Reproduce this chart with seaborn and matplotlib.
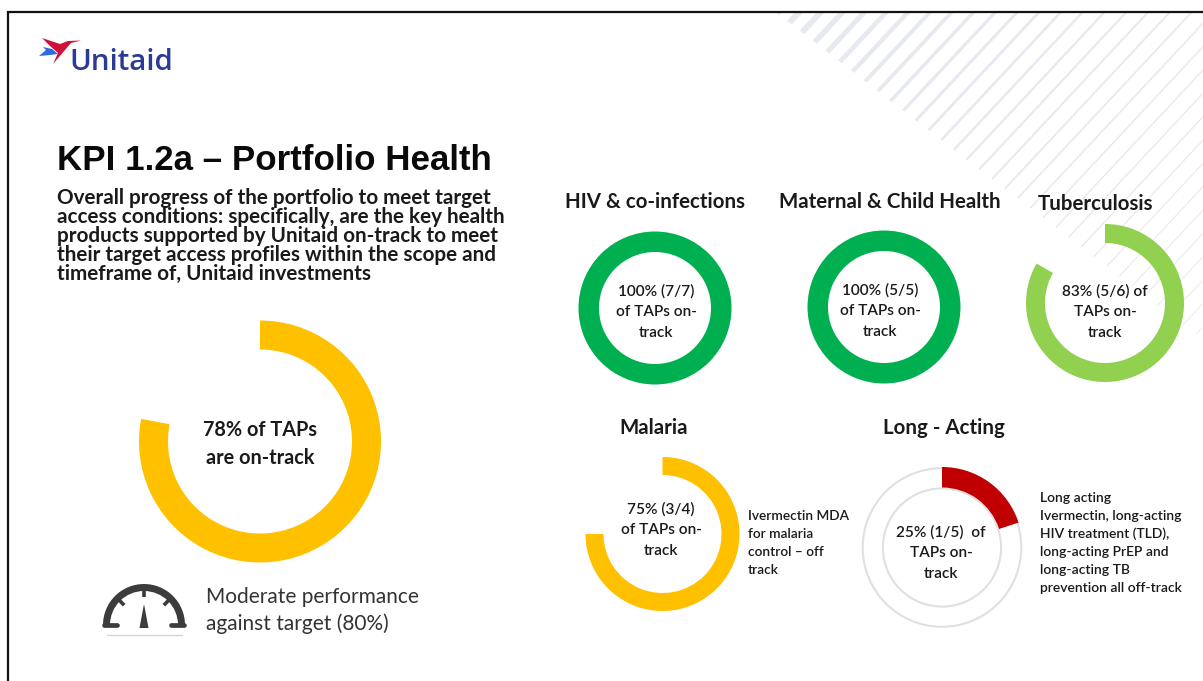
import numpy as np
import matplotlib
matplotlib.use("Agg")
import matplotlib.pyplot as plt
from matplotlib.patches import Wedge, Polygon
import seaborn as sns

W, H = 1203, 681

# data
overall_pct = 78
overall_label = ["78% of TAPs", "are on-track"]
area_names = ["HIV & co-infections", "Maternal & Child Health", "Tuberculosis", "Malaria", "Long - Acting"]
on_track = [7, 5, 5, 3, 1]
total = [7, 5, 6, 4, 5]
area_labels = [
    ["100% (7/7)", "of TAPs on-", "track"],
    ["100% (5/5)", "of TAPs on-", "track"],
    ["83% (5/6) of", "TAPs on-", "track"],
    ["75% (3/4)", "of TAPs on-", "track"],
    ["25% (1/5)  of", "TAPs on-", "track"],
]
title = "KPI 1.2a – Portfolio Health"
intro_lines = [
    "Overall progress of the portfolio to meet target",
    "access conditions: specifically, are the key health",
    "products supported by Unitaid on-track to meet",
    "their target access profiles within the scope and",
    "timeframe of, Unitaid investments",
]
perf_lines = ["Moderate performance", "against target (80%)"]
malaria_note = ["Ivermectin MDA", "for malaria", "control – off", "track"]
la_note = ["Long acting", "Ivermectin, long-acting", "HIV treatment (TLD),", "long-acting PrEP and",
           "long-acting TB", "prevention all off-track"]

# layout in pixels, kept apart from the values
area_centers = [(655, 308), (884, 307), (1105, 303), (662.5, 534), (942, 547.5)]
area_radii = [76.5, 76.5, 79, 77, 80.5]
area_inner = [56, 56, 60, 59, 60]
area_colors = ["#00b050", "#00b050", "#92d050", "#ffc000", "#c00000"]
name_pos = [(655, 202.5), (890, 202.5), (1096, 204.5), (654, 428.5), (944, 428.5)]
label_pos = [(656, 291.5), (880, 290.5), (1105, 291.5), (661, 509.5), (941, 532.5)]

sns.set_theme(style="white")
plt.rcParams["font.family"] = ["Lato", "DejaVu Sans"]
TXT = "#1a1a1a"

fig = plt.figure(figsize=(W / 100, H / 100), dpi=100, facecolor="white")
bg = fig.add_axes([0, 0, 1, 1])
bg.set_xlim(0, W)
bg.set_ylim(H, 0)
bg.axis("off")

# slide frame
bg.plot([8, 8, W], [H, 12, 12], color="#111111", lw=1.6, zorder=5, solid_joinstyle="miter")

# striped corner, stripes get thinner towards the right
clip = Polygon([(777, 13), (1203, 343), (1203, 13)], transform=bg.transData)
for i in range(-1, 48):
    x0 = 764 + i * 12.7
    y0 = 3 + i * 9.75
    lw = 5.0 * np.exp(-max(i, 0) / 12) + 0.3
    line, = bg.plot([x0, x0 + 450], [y0, y0 - 450 * 1.07], color="#e6e9ef", lw=lw, zorder=1)
    line.set_clip_path(clip)

# logo
bg.text(69, 70, "Unitaid", color="#2b3a94", fontsize=21.2, fontfamily="Open Sans", fontweight="semibold",
        va="baseline", ha="left", zorder=3)
bg.add_patch(Polygon([(42, 38), (60, 44), (68, 41), (81, 40.5), (71, 43), (53, 64), (58, 53), (50, 46)],
                     color="#d0103a", zorder=4, lw=0))
bg.add_patch(Polygon([(39, 56), (46, 50), (43, 47), (52, 49), (58, 54), (50, 55)], color="#2d6be0", zorder=3, lw=0))

bg.text(57, 170, title, fontsize=25.1, fontweight="bold", fontfamily="Liberation Sans", color="#0a0a0a",
        va="baseline", ha="left", zorder=3)
for i, line in enumerate(intro_lines):
    bg.text(57, 197.7 + i * 19.1, line, fontsize=14.9, fontweight="bold", color=TXT, va="center", ha="left", zorder=3)


def donut(cx, cy, r, inner, share, color, ring=False):
    ax = fig.add_axes([(cx - r) / W, 1 - (cy + r) / H, 2 * r / W, 2 * r / H])
    ax.set_facecolor("none")
    if share >= 1:
        sizes, cols = [1], [color]
    else:
        sizes, cols = [share, 1 - share], [color, "none"]
    if ring:
        ax.pie([1], radius=0.985, colors=["white"], startangle=90,
               wedgeprops=dict(width=(r - inner) / r * 0.985, edgecolor="#e0e0e0", linewidth=1.5))
    ax.pie(sizes, radius=1, colors=cols, startangle=90, counterclock=False,
           wedgeprops=dict(width=(r - inner) / r, linewidth=0))
    ax.set_xlim(-1, 1)
    ax.set_ylim(-1, 1)
    return ax


donut(260, 441.5, 121, 92, overall_pct / 100, "#ffc000")
for i, line in enumerate(overall_label):
    bg.text(260, 429.5 + i * 28, line, fontsize=14.3, fontweight="bold", color=TXT, ha="center", va="center", zorder=3)

for k, name in enumerate(area_names):
    cx, cy = area_centers[k]
    donut(cx, cy, area_radii[k], area_inner[k], on_track[k] / total[k], area_colors[k], ring=(k == 4))
    bg.text(name_pos[k][0], name_pos[k][1], name, fontsize=14.8, fontweight="bold", color=TXT,
            ha="center", va="center", zorder=3)

fig_txt = fig.add_axes([0, 0, 1, 1])
fig_txt.set_xlim(0, W)
fig_txt.set_ylim(H, 0)
fig_txt.axis("off")
fig_txt.patch.set_alpha(0)

for k, lines in enumerate(area_labels):
    lx, ly = label_pos[k]
    for i, line in enumerate(lines):
        fig_txt.text(lx, ly + i * 20.9, line, fontsize=11.1, fontweight="semibold", color=TXT, ha="center", va="center")

for i, line in enumerate(malaria_note):
    fig_txt.text(748, 516 + i * 18, line, fontsize=9.9, fontweight="semibold", color=TXT, ha="left", va="center")
for i, line in enumerate(la_note):
    fig_txt.text(1040, 498 + i * 18, line, fontsize=10, fontweight="semibold", color=TXT, ha="left", va="center")

# gauge icon
dark = "#3c3c3c"
fig_txt.add_patch(Wedge((144, 625), 41, 180, 360, width=7, color=dark, lw=0))
for a in [90, 45, 135]:
    t = np.deg2rad(a)
    fig_txt.plot([144 + 36 * np.cos(t), 144 + 28 * np.cos(t)], [625 - 36 * np.sin(t), 625 - 28 * np.sin(t)],
                 color=dark, lw=2.6, solid_capstyle="butt")
fig_txt.plot([104, 117], [625, 625], color=dark, lw=3.4, solid_capstyle="round")
fig_txt.plot([171, 184], [625, 625], color=dark, lw=3.4, solid_capstyle="round")
fig_txt.add_patch(Polygon([(144, 604), (148.5, 628), (139.5, 628)], color=dark, lw=0))
fig_txt.plot([107, 182], [635, 635], color="#d5d5d5", lw=1)

for i, line in enumerate(perf_lines):
    fig_txt.text(206, 597 + i * 26.5, line, fontsize=15, color="#333333", ha="left", va="center")

fig.savefig("out.png", dpi=100, facecolor="white")
